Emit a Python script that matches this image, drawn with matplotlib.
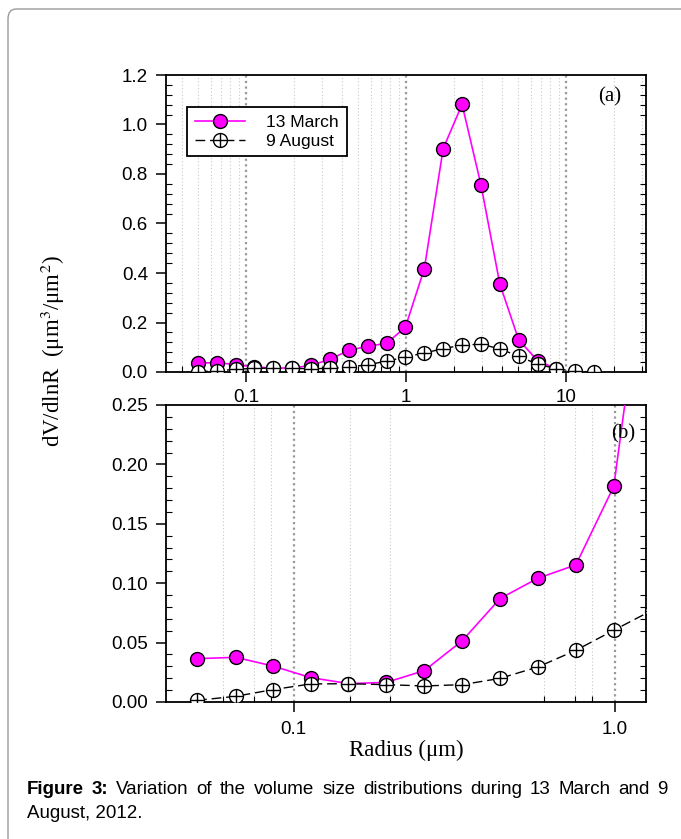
import numpy as np
import matplotlib.pyplot as plt
from matplotlib.ticker import LogLocator, MultipleLocator, FixedLocator, NullFormatter, FormatStrFormatter
from matplotlib.lines import Line2D
from matplotlib.patches import FancyBboxPatch
from matplotlib.legend_handler import HandlerTuple

plt.rcParams['font.family'] = ['Liberation Sans', 'DejaVu Sans']
plt.rcParams['mathtext.fontset'] = 'stix'

# AERONET size bins (um)
radius = [0.050, 0.066, 0.086, 0.113, 0.148, 0.194, 0.255, 0.335, 0.439, 0.576, 0.756,
          0.992, 1.302, 1.708, 2.241, 2.940, 3.857, 5.061, 6.641, 8.713, 11.432, 15.000]
march = [0.0365, 0.0376, 0.0303, 0.0205, 0.0155, 0.0165, 0.0264, 0.0517, 0.0871, 0.1042,
         0.1154, 0.1815, 0.418, 0.903, 1.081, 0.757, 0.356, 0.130, 0.046, 0.013]
august = [0.0014, 0.0048, 0.0104, 0.0152, 0.0154, 0.0146, 0.0135, 0.0146, 0.0199, 0.0295,
          0.0435, 0.0604, 0.077, 0.094, 0.109, 0.112, 0.094, 0.063, 0.032, 0.013, 0.003, 0.0]

labels = ['13 March', '9 August']
top_xticks = [0.1, 1, 10]
top_xlabels = ['0.1', '1', '10']
bot_xticks = [0.1, 1.0]
bot_xlabels = ['0.1', '1.0']
bot_grid = [0.06, 0.075, 0.085, 0.15, 0.2, 0.6, 0.75, 0.85]

W, H = 681, 839
fig = plt.figure(figsize=(W / 100, H / 100), dpi=100)

# rounded page border
fig.patches.append(FancyBboxPatch((8 / W, -0.05), 1.2, 1 - 9 / H + 0.05,
                                  boxstyle='round,pad=0,rounding_size=0.012',
                                  transform=fig.transFigure, fc='none', ec='#9a9a9a', lw=1.0))

ax1 = fig.add_axes([166 / W, 1 - 372 / H, 480 / W, 297 / H])
ax2 = fig.add_axes([166 / W, 1 - 702 / H, 480 / W, 297 / H])

mag = '#ff00ff'
ms = 10


def draw(ax):
    ax.plot(radius[:len(march)], march, '-', color=mag, lw=1.2, marker='o', ms=ms,
            mfc=mag, mec='black', mew=1.0, zorder=3)
    ax.plot(radius, august, color='black', lw=1.0, dashes=(7, 3.5), marker='o', ms=ms,
            mfc='white', mec='black', mew=1.0, zorder=4)
    ax.plot(radius, august, ls='none', marker='+', ms=ms, mec='black', mew=1.0, zorder=5)
    ax.set_xscale('log')
    for s in ax.spines.values():
        s.set_linewidth(1.3)
    ax.tick_params(which='major', direction='out', length=7, width=1.1, labelsize=13.5,
                   top=False, right=False)
    ax.tick_params(which='minor', direction='in', length=4, width=0.8, right=True, top=False)


draw(ax1)
ax1.set_xlim(10 ** -1.5, 10 ** 1.5)
ax1.set_ylim(0, 1.2)
ax1.xaxis.set_major_locator(FixedLocator(top_xticks))
ax1.set_xticklabels(top_xlabels)
ax1.xaxis.set_minor_locator(LogLocator(base=10, subs=np.arange(2, 10)))
ax1.xaxis.set_minor_formatter(NullFormatter())
ax1.yaxis.set_major_locator(MultipleLocator(0.2))
ax1.yaxis.set_minor_locator(MultipleLocator(0.04))
ax1.yaxis.set_major_formatter(FormatStrFormatter('%.1f'))
ax1.tick_params(axis='x', which='major', pad=5)
ax1.tick_params(axis='y', which='major', pad=6)
ax1.grid(True, which='minor', axis='x', color='#c8c8c8', lw=0.8, ls=(0, (1, 2)))
ax1.grid(True, which='major', axis='x', color='#999999', lw=1.6, ls=(0, (1, 1.5)))
ax1.text(0.925, 0.925, '(a)', transform=ax1.transAxes, family='Liberation Serif',
         fontsize=15, ha='center', va='center')

h_mar = Line2D([], [], color=mag, lw=1.2, marker='o', ms=ms, mfc=mag, mec='black')
h_aug1 = Line2D([], [], color='black', lw=1.0, dashes=(7, 3.5), marker='o', ms=ms,
                mfc='white', mec='black')
h_aug2 = Line2D([], [], ls='none', marker='+', ms=ms, mec='black', mew=1.0)
leg = ax1.legend([h_mar, (h_aug1, h_aug2)], labels, loc='upper left',
                 bbox_to_anchor=(0.044, 0.892), borderaxespad=0, fontsize=12.5,
                 handlelength=2.9, handletextpad=1.2, borderpad=0.45, labelspacing=0.2,
                 fancybox=False, framealpha=1, edgecolor='black',
                 handler_map={tuple: HandlerTuple(ndivide=1)})
leg.get_frame().set_linewidth(1.3)

draw(ax2)
ax2.set_xlim(0.04, 1.25)
ax2.set_ylim(0, 0.25)
ax2.xaxis.set_major_locator(FixedLocator(bot_xticks))
ax2.set_xticklabels(bot_xlabels)
ax2.xaxis.set_minor_locator(FixedLocator(bot_grid))
ax2.xaxis.set_minor_formatter(NullFormatter())
ax2.yaxis.set_major_locator(MultipleLocator(0.05))
ax2.yaxis.set_minor_locator(MultipleLocator(0.01))
ax2.yaxis.set_major_formatter(FormatStrFormatter('%.2f'))
ax2.tick_params(axis='x', which='major', pad=7)
ax2.tick_params(axis='y', which='major', pad=6)
ax2.grid(True, which='minor', axis='x', color='#c8c8c8', lw=0.8, ls=(0, (1, 2)))
ax2.grid(True, which='major', axis='x', color='#999999', lw=1.6, ls=(0, (1, 1.5)))
ax2.text(0.953, 0.902, '(b)', transform=ax2.transAxes, family='Liberation Serif',
         fontsize=15, ha='center', va='center')
ax2.set_xlabel('Radius (μm)', family='Liberation Serif', fontsize=16.5, labelpad=1)

fig.text(53 / W, 1 - 351 / H, 'dV/dlnR  (μm$^{3}$/μm$^{2}$)', rotation=90,
         family='Liberation Serif', fontsize=16.5, ha='center', va='center')

# caption, first line justified between x=27 and x=668
cap_size = 13.5
cap_y1 = 1 - 790 / H
cap_y2 = 1 - 814 / H
words = [('Figure', 'bold'), ('3:', 'bold')] + \
        [(w, 'normal') for w in 'Variation of the volume size distributions during 13 March and 9'.split()]
fig.canvas.draw()
r = fig.canvas.get_renderer()
items = [fig.text(0, cap_y1, w, fontweight=wt, fontsize=cap_size, va='center') for w, wt in words]
widths = [t.get_window_extent(renderer=r).width for t in items]
gap = (668 - 27 - sum(widths)) / (len(items) - 1)
x = 27
for t, w in zip(items, widths):
    t.set_x(x / W)
    x += w + gap
fig.text(27 / W, cap_y2, 'August, 2012.', fontsize=cap_size, va='center')

fig.savefig('out.png', dpi=100)
